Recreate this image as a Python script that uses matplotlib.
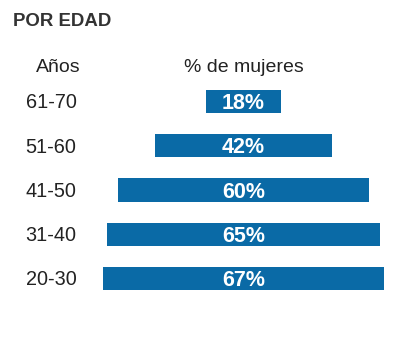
import matplotlib.pyplot as plt

plt.rcParams['font.family'] = ['Liberation Sans', 'DejaVu Sans']

# datos
grupos = ['61-70', '51-60', '41-50', '31-40', '20-30']
mujeres = [18, 42, 60, 65, 67]

color_barra = '#0a6aa6'
color_texto = '#222222'

fig = plt.figure(figsize=(4.14, 3.55), dpi=100)
ax = fig.add_axes([0, 0, 1, 1])

# barras centradas en 0
izq = [-v / 2 for v in mujeres]
ax.barh(range(len(grupos)), mujeres, left=izq, height=0.52, color=color_barra)

for i, (g, v) in enumerate(zip(grupos, mujeres)):
    ax.text(-45.8, i + 0.155, g, ha='center', va='baseline', fontsize=14.3, color=color_texto)
    ax.text(0, i + 0.175, f'{v}%', ha='center', va='baseline', fontsize=15.5,
            fontweight='bold', color='white')

# cabeceras
ax.text(-44.1, -0.675, 'Años', ha='center', va='baseline', fontsize=14, color=color_texto)
ax.text(0, -0.675, '% de mujeres', ha='center', va='baseline', fontsize=14, color=color_texto)

fig.text(13 / 414, 1 - 26 / 355, 'POR EDAD', ha='left', va='baseline', fontsize=13.4,
         fontweight='bold', color='#333333')

ax.set_xlim(-57.98, 40.6)
ax.set_ylim(5.729, -2.294)
ax.axis('off')

plt.savefig('out.png', dpi=100)
